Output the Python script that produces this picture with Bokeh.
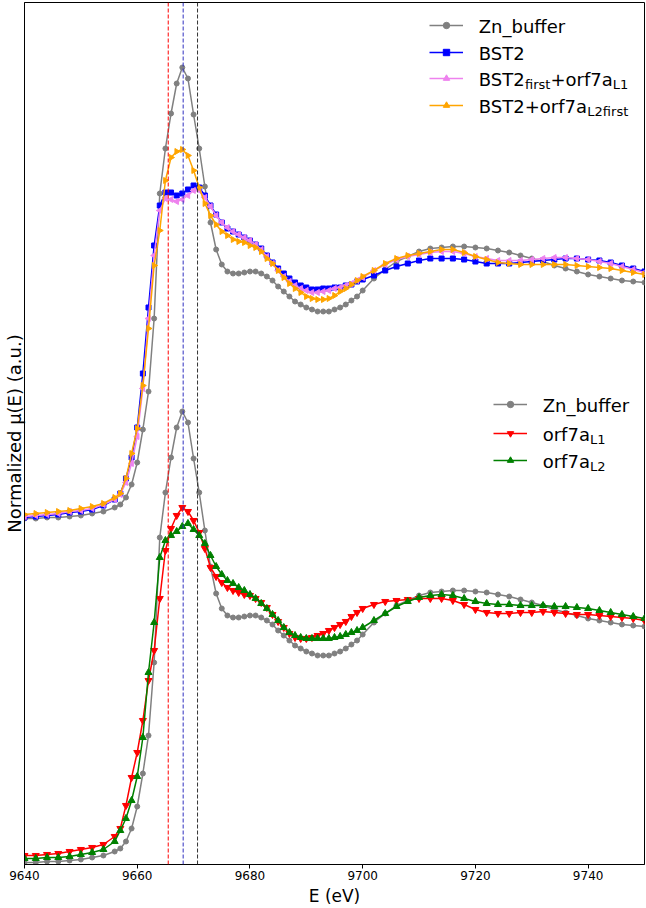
from bokeh.plotting import figure
from bokeh.models import ColumnDataSource, Range1d, Span, Legend, LegendItem, Label, FixedTicker
from bokeh.core.properties import value
from bokeh.embed import file_html
from bokeh.resources import INLINE

# ---------------- data ----------------
energy = [9640, 9642, 9644, 9646, 9648, 9650, 9652, 9654, 9656,
          9657, 9658, 9659, 9660, 9661, 9662, 9663, 9664, 9665, 9666,
          9667, 9668, 9669, 9670, 9671, 9672, 9673, 9674, 9675, 9676,
          9677, 9678, 9679, 9680, 9681, 9682, 9683, 9684, 9685, 9686,
          9687, 9688, 9689, 9690, 9691, 9692, 9693, 9694, 9695, 9696,
          9697, 9698, 9699, 9700,
          9702, 9704, 9706, 9708, 9710, 9712, 9714, 9716, 9718, 9720,
          9722, 9724, 9726, 9728, 9730, 9732, 9734, 9736, 9738, 9740,
          9742, 9744, 9746, 9748, 9750]

zn_buffer = [0.000, 0.000, 0.004, 0.004, 0.008, 0.012, 0.020, 0.028, 0.044,
             0.056, 0.084, 0.136, 0.224, 0.356, 0.508, 0.800, 1.300, 1.480, 1.620,
             1.740, 1.804, 1.760, 1.616, 1.480, 1.328, 1.184, 1.076, 1.016, 0.988,
             0.980, 0.980, 0.984, 0.988, 0.988, 0.980, 0.968, 0.952, 0.928, 0.908,
             0.888, 0.868, 0.856, 0.844, 0.836, 0.828, 0.828, 0.828, 0.836, 0.844,
             0.856, 0.872, 0.888, 0.912,
             0.960, 0.996, 1.028, 1.048, 1.068, 1.080, 1.084, 1.088, 1.088, 1.084,
             1.080, 1.072, 1.064, 1.052, 1.040, 1.028, 1.012, 1.000, 0.988, 0.976,
             0.968, 0.960, 0.952, 0.948, 0.944]

bst2 = [0.004, 0.008, 0.012, 0.016, 0.024, 0.028, 0.036, 0.052, 0.076,
        0.100, 0.160, 0.244, 0.364, 0.580, 0.844, 1.092, 1.252, 1.304, 1.304,
        1.292, 1.300, 1.316, 1.332, 1.324, 1.292, 1.252, 1.216, 1.184, 1.160,
        1.148, 1.136, 1.124, 1.112, 1.096, 1.080, 1.052, 1.024, 1.000, 0.980,
        0.960, 0.944, 0.932, 0.924, 0.916, 0.916, 0.920, 0.920, 0.924, 0.924,
        0.932, 0.936, 0.948, 0.956,
        0.972, 0.992, 1.008, 1.020, 1.032, 1.040, 1.040, 1.040, 1.036, 1.028,
        1.020, 1.020, 1.020, 1.024, 1.028, 1.032, 1.036, 1.040, 1.040, 1.036,
        1.032, 1.024, 1.012, 1.000, 0.988]

bst2first_orf7aL1 = [0.008, 0.012, 0.016, 0.020, 0.028, 0.032, 0.040, 0.056, 0.076,
                     0.096, 0.144, 0.220, 0.328, 0.520, 0.800, 1.052, 1.232, 1.280, 1.276,
                     1.268, 1.276, 1.292, 1.312, 1.312, 1.284, 1.248, 1.212, 1.184, 1.164,
                     1.148, 1.136, 1.124, 1.112, 1.096, 1.076, 1.048, 1.020, 0.992, 0.968,
                     0.948, 0.932, 0.920, 0.912, 0.904, 0.904, 0.908, 0.912, 0.920, 0.924,
                     0.932, 0.940, 0.952, 0.964,
                     0.992, 1.016, 1.036, 1.048, 1.056, 1.064, 1.068, 1.068, 1.060, 1.048,
                     1.040, 1.032, 1.032, 1.032, 1.036, 1.040, 1.044, 1.044, 1.040, 1.036,
                     1.028, 1.020, 1.008, 0.996, 0.984]

bst2_orf7aL2first = [0.016, 0.020, 0.024, 0.028, 0.032, 0.040, 0.048, 0.060, 0.084,
                     0.100, 0.160, 0.260, 0.360, 0.532, 0.760, 1.012, 1.152, 1.352, 1.444,
                     1.468, 1.476, 1.452, 1.392, 1.324, 1.260, 1.212, 1.176, 1.148, 1.132,
                     1.116, 1.108, 1.104, 1.092, 1.084, 1.068, 1.040, 1.020, 0.992, 0.964,
                     0.940, 0.920, 0.904, 0.888, 0.880, 0.876, 0.876, 0.880, 0.892, 0.908,
                     0.920, 0.936, 0.952, 0.968,
                     0.992, 1.020, 1.040, 1.052, 1.060, 1.068, 1.076, 1.076, 1.064, 1.048,
                     1.036, 1.024, 1.020, 1.016, 1.016, 1.016, 1.016, 1.016, 1.012, 1.008,
                     1.004, 1.000, 0.992, 0.984, 0.976]

orf7aL1 = [0.028, 0.028, 0.032, 0.036, 0.044, 0.052, 0.060, 0.072, 0.104,
           0.136, 0.228, 0.340, 0.440, 0.568, 0.728, 0.848, 1.056, 1.248, 1.336,
           1.388, 1.420, 1.404, 1.368, 1.320, 1.256, 1.180, 1.144, 1.120, 1.100,
           1.088, 1.080, 1.072, 1.068, 1.056, 1.040, 1.020, 0.992, 0.964, 0.940,
           0.916, 0.900, 0.896, 0.896, 0.900, 0.908, 0.916, 0.928, 0.940, 0.952,
           0.964, 0.984, 1.000, 1.016,
           1.032, 1.044, 1.048, 1.052, 1.056, 1.056, 1.056, 1.048, 1.032, 1.012,
           1.000, 0.996, 0.996, 1.000, 1.000, 1.004, 1.000, 0.996, 0.992, 0.992,
           0.988, 0.984, 0.980, 0.976, 0.968]

orf7aL2 = [0.016, 0.016, 0.020, 0.020, 0.024, 0.032, 0.040, 0.052, 0.084,
           0.128, 0.176, 0.248, 0.344, 0.500, 0.760, 0.960, 1.220, 1.288, 1.308,
           1.324, 1.344, 1.356, 1.332, 1.308, 1.276, 1.228, 1.184, 1.152, 1.128,
           1.116, 1.100, 1.088, 1.072, 1.056, 1.036, 1.016, 0.992, 0.968, 0.940,
           0.920, 0.908, 0.900, 0.896, 0.896, 0.896, 0.896, 0.896, 0.900, 0.904,
           0.912, 0.920, 0.928, 0.940,
           0.968, 0.996, 1.024, 1.044, 1.060, 1.068, 1.072, 1.068, 1.056, 1.044,
           1.036, 1.032, 1.032, 1.028, 1.028, 1.028, 1.024, 1.024, 1.020, 1.016,
           1.008, 1.000, 0.992, 0.984, 0.976]

x_ticks = [9640, 9660, 9680, 9700, 9720, 9740]
edge_energies = [9665.5, 9668.15, 9670.7]
edge_colors = ["red", "#2f2fc0", "#333333"]
upper_offset = 1.376   # vertical stacking offset of the upper set of spectra

# ---------------- layout constants ----------------
FONT = "DejaVu Sans"
X0, X1 = 9640, 9750
Y0, Y1 = -0.008, 3.44
W, H = 646, 908
B_LEFT, B_RIGHT, B_TOP, B_BOTTOM = 23, 2, 2, 44
FRAME_W, FRAME_H = W - B_LEFT - B_RIGHT, H - B_TOP - B_BOTTOM
PX = (Y1 - Y0) / FRAME_H

src = ColumnDataSource(dict(
    E=energy,
    zn_low=zn_buffer,
    zn_up=[v + upper_offset for v in zn_buffer],
    bst2=[v + upper_offset for v in bst2],
    bst2f=[v + upper_offset for v in bst2first_orf7aL1],
    bst2l2=[v + upper_offset for v in bst2_orf7aL2first],
    l1=orf7aL1,
    l2=orf7aL2,
))

p = figure(width=W, height=H,
           x_range=Range1d(X0, X1), y_range=Range1d(Y0, Y1),
           output_backend="svg", toolbar_location=None,
           min_border_left=B_LEFT, min_border_right=B_RIGHT,
           min_border_top=B_TOP, min_border_bottom=B_BOTTOM,
           background_fill_color="white", border_fill_color="white")

p.xgrid.visible = False
p.ygrid.visible = False
p.outline_line_color = "black"
p.outline_line_width = 1

p.xaxis.ticker = FixedTicker(ticks=x_ticks)
p.xaxis.major_label_text_font = FONT
p.xaxis.major_label_text_font_size = "12px"
p.xaxis.major_label_text_color = "black"
p.xaxis.major_tick_out = 4
p.xaxis.major_tick_in = 0
p.xaxis.major_label_standoff = 2
p.xaxis.minor_tick_line_color = None
p.xaxis.axis_line_color = "black"
p.xaxis.axis_label = "E (eV)"
p.xaxis.axis_label_text_font = FONT
p.xaxis.axis_label_text_font_size = "17px"
p.xaxis.axis_label_text_font_style = "normal"
p.xaxis.axis_label_standoff = 3
p.xaxis.axis_label_text_color = "black"

p.yaxis.ticker = FixedTicker(ticks=[])
p.yaxis.major_tick_out = 0
p.yaxis.major_tick_in = 0
p.yaxis.major_label_standoff = 0
p.yaxis.minor_tick_line_color = None
p.yaxis.axis_line_color = "black"
p.yaxis.axis_label = "Normalized μ(E) (a.u.)"
p.yaxis.axis_label_text_font = FONT
p.yaxis.axis_label_text_font_size = "18px"
p.yaxis.axis_label_text_font_style = "normal"
p.yaxis.axis_label_standoff = 0
p.yaxis.axis_label_text_color = "black"


def curve(col, color, marker, size, angle=0.0):
    rl = p.line("E", col, source=src, line_color=color, line_width=1.5)
    rs = p.scatter("E", col, source=src, marker=marker, size=size, angle=angle,
                   angle_units="rad", fill_color=color, line_color=color)
    return [rl, rs]


# upper set
r_zn_up = curve("zn_up", "gray", "circle", 5)
r_bst2 = curve("bst2", "blue", "square", 5)
r_bst2f = curve("bst2f", "violet", "triangle", 6, angle=1.5708)
r_bst2l2 = curve("bst2l2", "orange", "triangle", 6, angle=-1.5708)
# lower set
r_zn_low = curve("zn_low", "gray", "circle", 5)
r_l1 = curve("l1", "red", "inverted_triangle", 7)
r_l2 = curve("l2", "green", "triangle", 7)

for e, c in zip(edge_energies, edge_colors):
    p.add_layout(Span(location=e, dimension="height", line_color=c,
                      line_dash="4 2", line_width=1))

ADV = {"B": 0.686, "S": 0.635, "T": 0.611, "2": 0.636, "f": 0.352, "i": 0.278,
       "r": 0.411, "s": 0.521, "t": 0.392, "+": 0.838, "o": 0.612, "7": 0.636,
       "a": 0.613, "L": 0.557, "1": 0.636, "Z": 0.685, "n": 0.634, "_": 0.5,
       "b": 0.635, "u": 0.634, "e": 0.615}
MAIN_FS, SUB_FS = 18, 13
GH = 16   # legend sample box height


def add_legend(entries, glyph_x_e, text_x_e, rows_px):
    vx = round((glyph_x_e - X0) / (X1 - X0) * FRAME_W)
    for (r, pieces), row in zip(entries, rows_px):
        vy = round(FRAME_H - row - GH / 2)
        leg = Legend(items=[LegendItem(label=value(" "), renderers=r)],
                     location=(vx, vy), padding=0, margin=0, spacing=0,
                     glyph_width=34, glyph_height=GH, label_height=GH, label_width=1,
                     label_standoff=0, border_line_alpha=0, background_fill_alpha=0,
                     label_text_font_size="1px")
        p.add_layout(leg)
        y_main = Y1 - (row + 1) * PX
        xoff = 0.0
        for txt, sub in pieces:
            fs = SUB_FS if sub else MAIN_FS
            y = y_main - (5 * PX if sub else 0.0)
            p.add_layout(Label(x=text_x_e, y=y, x_offset=xoff, text=txt,
                               text_font=FONT, text_font_size=f"{fs}px",
                               text_color="black", text_baseline="middle",
                               text_align="left"))
            xoff += sum(ADV.get(ch, 0.6) for ch in txt) * fs


# legend rows: vertical centres in px below the top of the plot frame
add_legend([
    (r_zn_up, [("Zn_buffer", False)]),
    (r_bst2, [("BST2", False)]),
    (r_bst2f, [("BST2", False), ("first", True), ("+orf7a", False), ("L1", True)]),
    (r_bst2l2, [("BST2+orf7a", False), ("L2first", True)]),
], glyph_x_e=9711.74, text_x_e=9720.6, rows_px=[23, 50, 76, 103])

add_legend([
    (r_zn_low, [("Zn_buffer", False)]),
    (r_l1, [("orf7a", False), ("L1", True)]),
    (r_l2, [("orf7a", False), ("L2", True)]),
], glyph_x_e=9723.08, text_x_e=9731.94, rows_px=[402, 431, 458])

open("out.html", "w").write(file_html(p, INLINE))
